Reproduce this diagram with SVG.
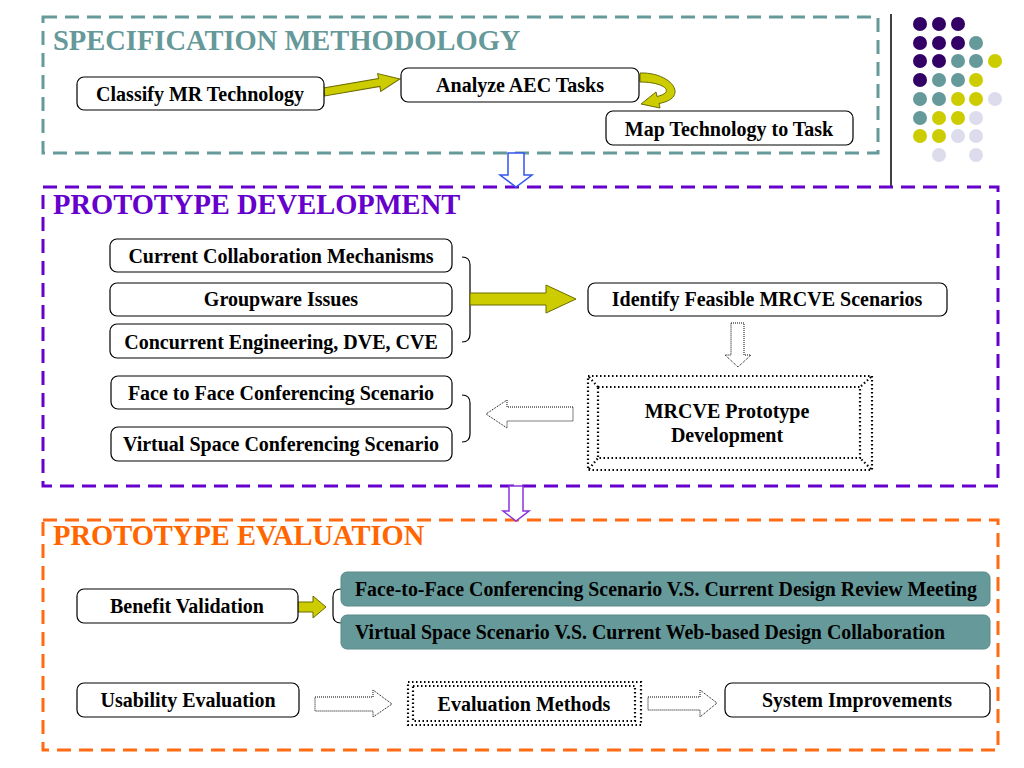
<svg xmlns="http://www.w3.org/2000/svg" width="1024" height="768" viewBox="0 0 1024 768">
<style>
text{font-family:"Liberation Serif","Times New Roman",serif;font-weight:bold;}
.t{font-size:20px;fill:#000;text-anchor:middle;}
.title{font-size:28.5px;}
.box{fill:#fff;stroke:#000;stroke-width:1.2;}
.tbox{fill:#669999;stroke:#5a8a8a;stroke-width:1;}
.dot2{fill:none;stroke:#000;stroke-width:2.2;stroke-dasharray:1.5 2.5;}
.dotarrow{fill:#fff;stroke:#000;stroke-width:1;stroke-dasharray:1 1;}
.yarrow{fill:#cccc00;stroke:#6b6b00;stroke-width:1;}
.brk{fill:none;stroke:#000;stroke-width:1.2;}
.pu{fill:#330066;}.te{fill:#669999;}.ye{fill:#cccc00;}.la{fill:#dcdcec;}
</style>

<g id="decor">
  <line x1="891" y1="14" x2="891" y2="187" stroke="#000" stroke-width="1.5"/>
  <circle class="pu" cx="920" cy="24" r="7"/><circle class="pu" cx="939" cy="24" r="7"/><circle class="pu" cx="958" cy="24" r="7"/>
  <circle class="pu" cx="920" cy="43" r="7"/><circle class="pu" cx="939" cy="43" r="7"/><circle class="pu" cx="958" cy="43" r="7"/><circle class="te" cx="976" cy="43" r="7"/>
  <circle class="pu" cx="920" cy="61" r="7"/><circle class="pu" cx="939" cy="61" r="7"/><circle class="te" cx="958" cy="61" r="7"/><circle class="te" cx="976" cy="61" r="7"/><circle class="ye" cx="995" cy="61" r="7"/>
  <circle class="pu" cx="920" cy="80" r="7"/><circle class="te" cx="939" cy="80" r="7"/><circle class="te" cx="958" cy="80" r="7"/><circle class="ye" cx="976" cy="80" r="7"/>
  <circle class="te" cx="920" cy="99" r="7"/><circle class="te" cx="939" cy="99" r="7"/><circle class="ye" cx="958" cy="99" r="7"/><circle class="ye" cx="976" cy="99" r="7"/><circle class="la" cx="995" cy="99" r="7"/>
  <circle class="te" cx="920" cy="118" r="7"/><circle class="ye" cx="939" cy="118" r="7"/><circle class="ye" cx="958" cy="118" r="7"/><circle class="la" cx="976" cy="118" r="7"/>
  <circle class="ye" cx="920" cy="136" r="7"/><circle class="ye" cx="939" cy="136" r="7"/><circle class="la" cx="958" cy="136" r="7"/><circle class="la" cx="976" cy="136" r="7"/>
  <circle class="la" cx="939" cy="155" r="7"/><circle class="la" cx="976" cy="155" r="7"/>
</g>

<g id="sec-spec">
  <rect x="43" y="17" width="835" height="136" fill="none" stroke="#669999" stroke-width="3" stroke-dasharray="14 8"/>
  <text class="title" x="53" y="50" fill="#669999">SPECIFICATION METHODOLOGY</text>
</g>
<g id="sec-dev">
  <rect x="43" y="187" width="955" height="299" fill="none" stroke="#6600cc" stroke-width="3" stroke-dasharray="14 8"/>
  <text class="title" x="53" y="214" fill="#6600cc">PROTOTYPE DEVELOPMENT</text>
</g>
<g id="sec-eval">
  <rect x="43" y="520" width="955" height="230" fill="none" stroke="#ff6a13" stroke-width="3" stroke-dasharray="14 8"/>
  <text class="title" x="53" y="545" fill="#ff6600">PROTOTYPE EVALUATION</text>
</g>

<g id="connectors">
  <g transform="translate(324,92) rotate(-9.8)">
    <polygon class="yarrow" points="0,-4 56,-4 56,-9 77,0 56,9 56,4 0,4"/>
  </g>
  <path class="yarrow" d="M 640 73 C 672 72, 690 98, 659 103.5 L 660 108 L 641 104 L 656 92 L 657 96.5 C 676 92, 664 82, 640 82 Z"/>
  <polygon fill="#fff" stroke="#3355ee" stroke-width="1.5" points="508,153 524,153 524,175 532,175 516,187 500,175 508,175"/>
  <path class="brk" d="M 462 257 Q 470 257 470 265 L 470 334 Q 470 342 462 342"/>
  <polygon class="yarrow" points="470,293 546,293 546,285 576,299 546,313 546,305 470,305"/>
  <polygon class="dotarrow" points="731,323 744,323 744,355 751,355 738,367 725,355 731,355"/>
  <polygon class="dotarrow" points="573,407 507,407 507,400 486,414 507,428 507,421 573,421"/>
  <path class="brk" d="M 462 395 Q 470 395 470 403 L 470 434 Q 470 442 462 442"/>
  <polygon fill="#fff" stroke="#8833dd" stroke-width="1.5" points="509,486 523,486 523,511 529,511 516,521 503,511 509,511"/>
  <polygon class="yarrow" points="298,602 313,602 313,596 326,607 313,618 313,612 298,612"/>
  <path class="brk" d="M 341 589 Q 333 589 333 597 L 333 615 Q 333 623 341 623"/>
  <polygon class="dotarrow" points="315,697 373,697 373,690 392,704 373,717 373,711 315,711"/>
  <polygon class="dotarrow" points="648,697 700,697 700,690 717,703 700,717 700,710 648,710"/>
</g>

<g id="n-classify"><rect class="box" x="77" y="77" width="247" height="33" rx="7"/><text class="t" x="200" y="101">Classify MR Technology</text></g>
<g id="n-analyze"><rect class="box" x="401" y="68" width="238" height="34" rx="7"/><text class="t" x="520" y="92">Analyze AEC Tasks</text></g>
<g id="n-map"><rect class="box" x="606" y="111" width="247" height="34" rx="7"/><text class="t" x="729" y="136">Map Technology to Task</text></g>

<g id="n-ccm"><rect class="box" x="110" y="239" width="342" height="33" rx="7"/><text class="t" x="281" y="263">Current Collaboration Mechanisms</text></g>
<g id="n-gw"><rect class="box" x="110" y="283" width="342" height="33" rx="7"/><text class="t" x="281" y="306">Groupware Issues</text></g>
<g id="n-ce"><rect class="box" x="110" y="324" width="342" height="34" rx="7"/><text class="t" x="281" y="349">Concurrent Engineering, DVE, CVE</text></g>
<g id="n-identify"><rect class="box" x="588" y="283" width="359" height="33" rx="7"/><text class="t" x="767" y="306">Identify Feasible MRCVE Scenarios</text></g>
<g id="n-proto">
  <rect class="dot2" x="588" y="376" width="284" height="94"/>
  <rect class="dot2" x="598" y="387" width="262" height="71"/>
  <path class="dot2" d="M 589 377 L 598 387 M 871 377 L 860 387 M 589 469 L 598 458 M 871 469 L 860 458"/>
  <text class="t" x="727" y="418">MRCVE Prototype</text>
  <text class="t" x="727" y="442">Development</text>
</g>
<g id="n-f2f"><rect class="box" x="111" y="376" width="341" height="33" rx="7"/><text class="t" x="281" y="400">Face to Face Conferencing Scenario</text></g>
<g id="n-vs"><rect class="box" x="111" y="427" width="341" height="34" rx="7"/><text class="t" x="281" y="451">Virtual Space Conferencing Scenario</text></g>

<g id="n-benefit"><rect class="box" x="77" y="589" width="221" height="34" rx="7"/><text class="t" x="187" y="613">Benefit Validation</text></g>
<g id="n-f2fcmp"><rect class="tbox" x="341" y="572" width="649" height="34" rx="6"/><text class="t" x="666" y="596" fill="#111" textLength="622" lengthAdjust="spacingAndGlyphs" style="font-size:20px">Face-to-Face Conferencing Scenario V.S. Current Design Review Meeting</text></g>
<g id="n-vscmp"><rect class="tbox" x="341" y="615" width="649" height="34" rx="6"/><text class="t" x="650" y="639" fill="#111" textLength="590" lengthAdjust="spacingAndGlyphs" style="font-size:20px">Virtual Space Scenario V.S. Current Web-based Design Collaboration</text></g>
<g id="n-usability"><rect class="box" x="77" y="683" width="222" height="34" rx="7"/><text class="t" x="188" y="707">Usability Evaluation</text></g>
<g id="n-methods">
  <rect class="dot2" x="408" y="682" width="233" height="43"/>
  <rect class="dot2" x="413" y="686" width="222" height="35"/>
  <text class="t" x="524" y="711">Evaluation Methods</text>
</g>
<g id="n-sysimp"><rect class="box" x="725" y="683" width="265" height="34" rx="7"/><text class="t" x="857" y="707">System Improvements</text></g>
</svg>
